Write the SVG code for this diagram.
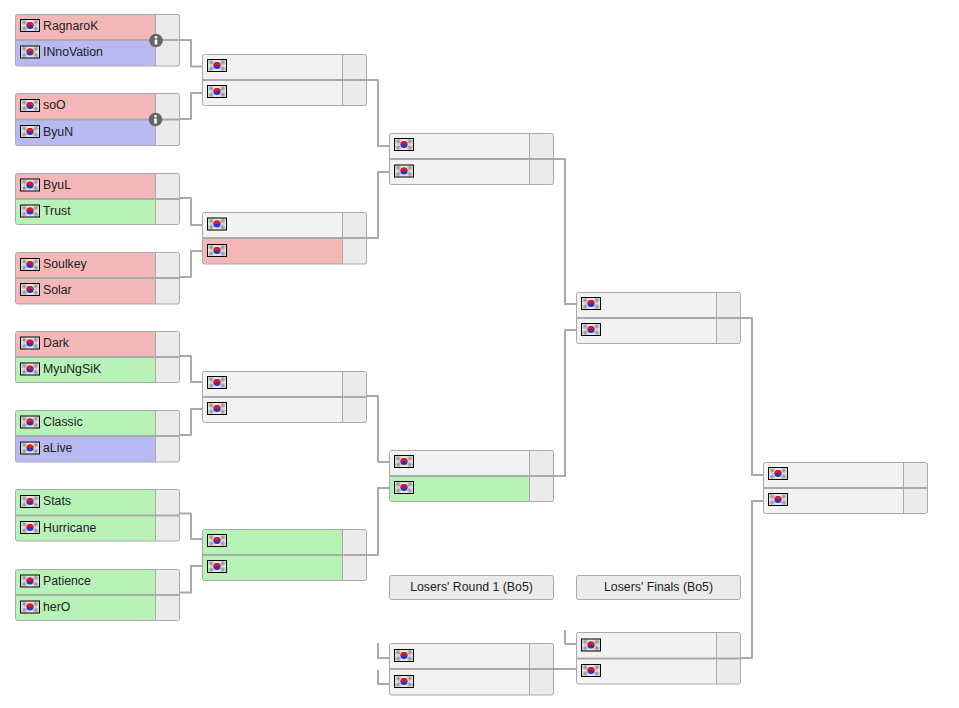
<svg xmlns="http://www.w3.org/2000/svg" xmlns:xlink="http://www.w3.org/1999/xlink" width="959" height="708" viewBox="0 0 959 708">
<style>
text{font-family:"Liberation Sans",Arial,sans-serif;font-size:12.3px;fill:#222}
.conn{fill:none;stroke:#aaa;stroke-width:2;stroke-linejoin:round}
.o{fill:none;stroke:#aaa;stroke-width:1}
.d{stroke:#aaa;stroke-width:2}
.s{stroke:#aaa;stroke-width:1}
.n{fill:#f2f2f2}.r{fill:#f3b7b7}.b{fill:#b9b9f1}.g{fill:#b7f3b7}
.sc{fill:#ebebeb}
.hd{fill:#ebebeb;stroke:#aaa}
</style>
<defs>
<filter id="soft" x="-10%" y="-10%" width="120%" height="120%"><feGaussianBlur stdDeviation="0.8"/></filter>
<filter id="soft2" x="-30%" y="-30%" width="160%" height="160%"><feGaussianBlur stdDeviation="0.4"/></filter>
<g id="flag">
<rect x="0" y="0" width="20" height="13" fill="#e6e6e6"/>
<g filter="url(#soft)" fill="#666"><rect x="2.500" y="2" width="3.500" height="2.500" transform="rotate(35 4 3.200)"/><rect x="14" y="2" width="3.500" height="2.500" transform="rotate(-35 16 3.200)"/><rect x="2.500" y="8.500" width="3.500" height="2.500" transform="rotate(-35 4 9.700)"/><rect x="14" y="8.500" width="3.500" height="2.500" transform="rotate(35 16 9.700)"/></g>
<g filter="url(#soft2)">
<circle cx="10" cy="6.500" r="3.500" fill="#3030c0"/>
<path d="M6.500 6.500a3.500 3.500 0 0 1 7 0z" fill="#e8141e"/>
</g>
<rect x="0.500" y="0.500" width="19" height="12" fill="none" stroke="#000"/>
</g>
<g id="info">
<circle r="6.800" fill="#666"/>
<circle cy="-3.300" r="1.300" fill="#fff"/>
<rect x="-1.300" y="-1" width="2.600" height="5" fill="#fff"/>
</g>
</defs>
<rect width="959" height="708" fill="#fff"/>

<g id="connectors">
<path class="conn" d="M180 40H191V66.500H202"/>
<path class="conn" d="M180 119H191V93H202"/>
<path class="conn" d="M180 198H191V225H202"/>
<path class="conn" d="M180 277H191V251H202"/>
<path class="conn" d="M180 356H191V382H202"/>
<path class="conn" d="M180 435H191V409H202"/>
<path class="conn" d="M180 513.500H191V539H202"/>
<path class="conn" d="M180 592.500H191V566H202"/>
<path class="conn" d="M367 80H378V146H389"/>
<path class="conn" d="M367 238H378V172H389"/>
<path class="conn" d="M367 396H378V462H389"/>
<path class="conn" d="M367 555H378V488H389"/>
<path class="conn" d="M554 159H565V304H576"/>
<path class="conn" d="M554 476H565V330H576"/>
<path class="conn" d="M741 318H752V475H763"/>
<path class="conn" d="M741 658H752V501H763"/>
<path class="conn" d="M554 669H576"/>
<path class="conn" d="M378 643V658H389"/>
<path class="conn" d="M378 670V684H389"/>
<path class="conn" d="M565 630V644H576"/>
</g>

<g id="m1" transform="translate(15 0)"><rect class="r" x="1" y="15" width="140" height="25"/><rect class="b" x="1" y="40" width="140" height="26"/><rect class="sc" x="141" y="15" width="23" height="51"/><path class="s" d="M140.500 15V66"/><path class="d" d="M1 40H164"/><rect class="o" x="0.500" y="14.500" width="164" height="51.500" rx="2"/><use xlink:href="#flag" href="#flag" x="5" y="19"/><use xlink:href="#flag" href="#flag" x="5" y="45.500"/><text x="28" y="30">RagnaroK</text><text x="28" y="56">INnoVation</text><use xlink:href="#info" href="#info" x="141" y="40.500"/></g>
<g id="m2" transform="translate(15 0)"><rect class="r" x="1" y="94" width="140" height="25"/><rect class="b" x="1" y="119" width="140" height="26"/><rect class="sc" x="141" y="94" width="23" height="51"/><path class="s" d="M140.500 94V145"/><path class="d" d="M1 119.500H164"/><rect class="o" x="0.500" y="93.500" width="164" height="52" rx="2"/><use xlink:href="#flag" href="#flag" x="5" y="99"/><use xlink:href="#flag" href="#flag" x="5" y="125"/><text x="28" y="109">soO</text><text x="28" y="136">ByuN</text><use xlink:href="#info" href="#info" x="140.500" y="119.500"/></g>
<g id="m3" transform="translate(15 0)"><rect class="r" x="1" y="174" width="140" height="25"/><rect class="g" x="1" y="199" width="140" height="25"/><rect class="sc" x="141" y="174" width="23" height="50"/><path class="s" d="M140.500 174V224"/><path class="d" d="M1 199H164"/><rect class="o" x="0.500" y="173.500" width="164" height="51" rx="2"/><use xlink:href="#flag" href="#flag" x="5" y="178.500"/><use xlink:href="#flag" href="#flag" x="5" y="204.500"/><text x="28" y="189">ByuL</text><text x="28" y="215">Trust</text></g>
<g id="m4" transform="translate(15 0)"><rect class="r" x="1" y="253" width="140" height="25"/><rect class="r" x="1" y="278" width="140" height="26"/><rect class="sc" x="141" y="253" width="23" height="51"/><path class="s" d="M140.500 253V304"/><path class="d" d="M1 278H164"/><rect class="o" x="0.500" y="252.500" width="164" height="51.500" rx="2"/><use xlink:href="#flag" href="#flag" x="5" y="258"/><use xlink:href="#flag" href="#flag" x="5" y="283"/><text x="28" y="268">Soulkey</text><text x="28" y="294">Solar</text></g>
<g id="m5" transform="translate(15 0)"><rect class="r" x="1" y="332" width="140" height="25"/><rect class="g" x="1" y="357" width="140" height="26"/><rect class="sc" x="141" y="332" width="23" height="51"/><path class="s" d="M140.500 332V383"/><path class="d" d="M1 357H164"/><rect class="o" x="0.500" y="331.500" width="164" height="51" rx="2"/><use xlink:href="#flag" href="#flag" x="5" y="336.500"/><use xlink:href="#flag" href="#flag" x="5" y="362.500"/><text x="28" y="347">Dark</text><text x="28" y="373">MyuNgSiK</text></g>
<g id="m6" transform="translate(15 0)"><rect class="g" x="1" y="411" width="140" height="25"/><rect class="b" x="1" y="436" width="140" height="26"/><rect class="sc" x="141" y="411" width="23" height="51"/><path class="s" d="M140.500 411V462"/><path class="d" d="M1 436H164"/><rect class="o" x="0.500" y="410.500" width="164" height="51.500" rx="2"/><use xlink:href="#flag" href="#flag" x="5" y="415.500"/><use xlink:href="#flag" href="#flag" x="5" y="441.500"/><text x="28" y="426">Classic</text><text x="28" y="452">aLive</text></g>
<g id="m7" transform="translate(15 0)"><rect class="g" x="1" y="490" width="140" height="26"/><rect class="g" x="1" y="516" width="140" height="25"/><rect class="sc" x="141" y="490" width="23" height="51"/><path class="s" d="M140.500 490V541"/><path class="d" d="M1 515.500H164"/><rect class="o" x="0.500" y="489.500" width="164" height="51.500" rx="2"/><use xlink:href="#flag" href="#flag" x="5" y="495"/><use xlink:href="#flag" href="#flag" x="5" y="521"/><text x="28" y="505">Stats</text><text x="28" y="532">Hurricane</text></g>
<g id="m8" transform="translate(15 0)"><rect class="g" x="1" y="570" width="140" height="25"/><rect class="g" x="1" y="595" width="140" height="25"/><rect class="sc" x="141" y="570" width="23" height="50"/><path class="s" d="M140.500 570V620"/><path class="d" d="M1 595H164"/><rect class="o" x="0.500" y="569.500" width="164" height="51" rx="2"/><use xlink:href="#flag" href="#flag" x="5" y="574.500"/><use xlink:href="#flag" href="#flag" x="5" y="600.500"/><text x="28" y="585">Patience</text><text x="28" y="611">herO</text></g>

<g id="m9" transform="translate(202 0)"><rect class="n" x="1" y="55" width="140" height="51"/><rect class="sc" x="141" y="55" width="23" height="51"/><path class="s" d="M140.500 55V106"/><path class="d" d="M1 80H164"/><rect class="o" x="0.500" y="54.500" width="164" height="51" rx="2"/><use xlink:href="#flag" href="#flag" x="5" y="59"/><use xlink:href="#flag" href="#flag" x="5" y="85"/></g>
<g id="m10" transform="translate(202 0)"><rect class="n" x="1" y="213" width="140" height="25"/><rect class="r" x="1" y="238" width="140" height="26"/><rect class="sc" x="141" y="213" width="23" height="51"/><path class="s" d="M140.500 213V264"/><path class="d" d="M1 238H164"/><rect class="o" x="0.500" y="212.500" width="164" height="51.500" rx="2"/><use xlink:href="#flag" href="#flag" x="5" y="217.500"/><use xlink:href="#flag" href="#flag" x="5" y="244"/></g>
<g id="m11" transform="translate(202 0)"><rect class="n" x="1" y="372" width="140" height="51"/><rect class="sc" x="141" y="372" width="23" height="51"/><path class="s" d="M140.500 372V423"/><path class="d" d="M1 397H164"/><rect class="o" x="0.500" y="371.500" width="164" height="51" rx="2"/><use xlink:href="#flag" href="#flag" x="5" y="376"/><use xlink:href="#flag" href="#flag" x="5" y="402"/></g>
<g id="m12" transform="translate(202 0)"><rect class="g" x="1" y="530" width="140" height="51"/><rect class="sc" x="141" y="530" width="23" height="51"/><path class="s" d="M140.500 530V581"/><path class="d" d="M1 555H164"/><rect class="o" x="0.500" y="529.500" width="164" height="51" rx="2"/><use xlink:href="#flag" href="#flag" x="5" y="534"/><use xlink:href="#flag" href="#flag" x="5" y="560"/></g>

<g id="m13" transform="translate(389 0)"><rect class="n" x="1" y="134" width="140" height="51"/><rect class="sc" x="141" y="134" width="23" height="51"/><path class="s" d="M140.500 134V185"/><path class="d" d="M1 159H164"/><rect class="o" x="0.500" y="133.500" width="164" height="51" rx="2"/><use xlink:href="#flag" href="#flag" x="5" y="138"/><use xlink:href="#flag" href="#flag" x="5" y="164.500"/></g>
<g id="m14" transform="translate(389 0)"><rect class="n" x="1" y="451" width="140" height="25"/><rect class="g" x="1" y="476" width="140" height="25"/><rect class="sc" x="141" y="451" width="23" height="50"/><path class="s" d="M140.500 451V501"/><path class="d" d="M1 476H164"/><rect class="o" x="0.500" y="450.500" width="164" height="51" rx="2"/><use xlink:href="#flag" href="#flag" x="5" y="455"/><use xlink:href="#flag" href="#flag" x="5" y="481"/></g>
<g id="m15" transform="translate(389 0)"><rect class="n" x="1" y="644" width="140" height="51"/><rect class="sc" x="141" y="644" width="23" height="51"/><path class="s" d="M140.500 644V695"/><path class="d" d="M1 669H164"/><rect class="o" x="0.500" y="643.500" width="164" height="51.500" rx="2"/><use xlink:href="#flag" href="#flag" x="5" y="649"/><use xlink:href="#flag" href="#flag" x="5" y="675"/></g>

<g id="m16" transform="translate(576 0)"><rect class="n" x="1" y="293" width="140" height="51"/><rect class="sc" x="141" y="293" width="23" height="51"/><path class="s" d="M140.500 293V344"/><path class="d" d="M1 318H164"/><rect class="o" x="0.500" y="292.500" width="164" height="51" rx="2"/><use xlink:href="#flag" href="#flag" x="5" y="297"/><use xlink:href="#flag" href="#flag" x="5" y="323"/></g>
<g id="m17" transform="translate(576 0)"><rect class="n" x="1" y="633" width="140" height="51"/><rect class="sc" x="141" y="633" width="23" height="51"/><path class="s" d="M140.500 633V684"/><path class="d" d="M1 658.500H164"/><rect class="o" x="0.500" y="632.500" width="164" height="51.500" rx="2"/><use xlink:href="#flag" href="#flag" x="5" y="638.500"/><use xlink:href="#flag" href="#flag" x="5" y="664"/></g>
<g id="m18" transform="translate(763 0)"><rect class="n" x="1" y="463" width="140" height="50"/><rect class="sc" x="141" y="463" width="23" height="50"/><path class="s" d="M140.500 463V513"/><path class="d" d="M1 488H164"/><rect class="o" x="0.500" y="462.500" width="164" height="51" rx="2"/><use xlink:href="#flag" href="#flag" x="5" y="467"/><use xlink:href="#flag" href="#flag" x="5" y="493"/></g>

<g id="h1"><rect class="hd" x="389.500" y="575.500" width="164" height="24" rx="2"/><text x="471.500" y="591" text-anchor="middle">Losers' Round 1 (Bo5)</text></g>
<g id="h2"><rect class="hd" x="576.500" y="575.500" width="164" height="24" rx="2"/><text x="658.500" y="591" text-anchor="middle">Losers' Finals (Bo5)</text></g>
</svg>
